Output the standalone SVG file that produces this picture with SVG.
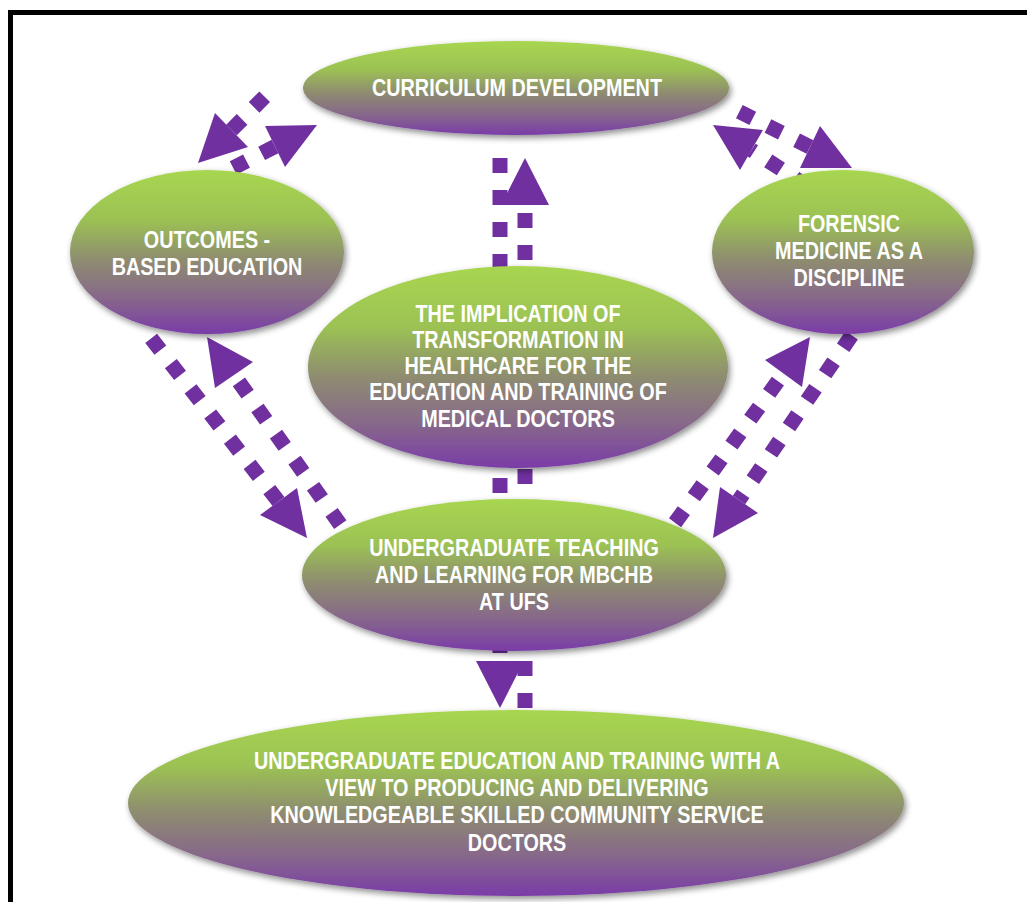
<svg xmlns="http://www.w3.org/2000/svg" width="1027" height="902" viewBox="0 0 1027 902">
  <defs>
    <linearGradient id="orbFill" x1="0" y1="0" x2="0" y2="1">
      <stop offset="0" stop-color="#a8d650"/>
      <stop offset="0.3" stop-color="#9cc253"/>
      <stop offset="0.55" stop-color="#8e8c70"/>
      <stop offset="0.78" stop-color="#87688a"/>
      <stop offset="1" stop-color="#7a3ca8"/>
    </linearGradient>
    <filter id="orbShadow" x="-10%" y="-10%" width="125%" height="135%">
      <feDropShadow dx="2" dy="3" stdDeviation="3" flood-color="#000" flood-opacity="0.45"/>
    </filter>
    <style>
      .orb { fill: url(#orbFill); filter: url(#orbShadow); }
      .label { font-family: 'Liberation Sans', Arial, sans-serif; font-weight: bold; font-size: 23px; fill: #ffffff; text-anchor: middle; }
      .shaft { stroke: #7030a0; stroke-width: 15; stroke-dasharray: 15 17; fill: none; }
      .head { fill: #7030a0; }
    </style>
  </defs>

  <rect width="1027" height="902" fill="#ffffff"/>
  <!-- frame -->
  <rect x="10.5" y="12.5" width="1030" height="900" fill="none" stroke="#000000" stroke-width="5"/>

  <!-- dotted connectors, drawn beneath the ovals -->
  <g id="connectors">
    <!-- curriculum -> outcomes -->
    <line class="shaft" x1="231.5" y1="130" x2="265.4" y2="96"/>
    <polygon class="head" points="198,163 215,113 248,147"/>
    <!-- outcomes -> curriculum -->
    <line class="shaft" x1="275" y1="146.5" x2="226" y2="171.6"/>
    <polygon class="head" points="317,125 265,126 285,167"/>
    <!-- forensic -> curriculum -->
    <line class="shaft" x1="751.5" y1="150" x2="818.6" y2="193.6" style="stroke-dashoffset:12"/>
    <polygon class="head" points="713,125 763,130 740,170"/>
    <!-- curriculum -> forensic -->
    <line class="shaft" x1="810" y1="147" x2="738.5" y2="111.2"/>
    <polygon class="head" points="852,168 820,126 800,168"/>
    <!-- outcomes -> undergraduate teaching -->
    <line class="shaft" x1="278.5" y1="501.5" x2="146.3" y2="332.1"/>
    <polygon class="head" points="307,538 260,515 297,488"/>
    <!-- undergraduate teaching -> outcomes -->
    <line class="shaft" x1="234" y1="375" x2="358.5" y2="550.2" style="stroke-dashoffset:23.5"/>
    <polygon class="head" points="207,337 253,362 215,388"/>
    <!-- forensic -> undergraduate teaching -->
    <line class="shaft" x1="739" y1="500" x2="852" y2="334.8" style="stroke-dashoffset:7.5"/>
    <polygon class="head" points="713,538 720,487 758,513"/>
    <!-- undergraduate teaching -> forensic -->
    <line class="shaft" x1="783.5" y1="373.5" x2="671.8" y2="527.2" style="stroke-dashoffset:22.5"/>
    <polygon class="head" points="810,337 765,360 802,387"/>
    <!-- curriculum down through the centre to the bottom oval -->
    <line class="shaft" x1="500" y1="158" x2="500" y2="661"/>
    <polygon class="head" points="500,708 476,661 524,661"/>
    <!-- bottom oval up through the centre to curriculum -->
    <line class="shaft" x1="525" y1="205" x2="525" y2="709" style="stroke-dashoffset:24"/>
    <polygon class="head" points="525,158 501,205 549,205"/>
  </g>

  <!-- labels use a horizontally condensed bold sans -->
  <g id="curriculum">
    <ellipse class="orb" cx="516" cy="88" rx="213" ry="47"/>
    <text class="label" transform="translate(517 96) scale(0.86 1)">CURRICULUM DEVELOPMENT</text>
  </g>

  <g id="outcomes">
    <ellipse class="orb" cx="207" cy="252" rx="137" ry="82"/>
    <text class="label" transform="translate(207 248) scale(0.86 1)">OUTCOMES -</text>
    <text class="label" transform="translate(207 275) scale(0.86 1)">BASED EDUCATION</text>
  </g>

  <g id="forensic">
    <ellipse class="orb" cx="843" cy="252" rx="131" ry="82"/>
    <text class="label" transform="translate(849 232) scale(0.86 1)">FORENSIC</text>
    <text class="label" transform="translate(849 259) scale(0.86 1)">MEDICINE AS A</text>
    <text class="label" transform="translate(849 286) scale(0.86 1)">DISCIPLINE</text>
  </g>

  <g id="implication">
    <ellipse class="orb" cx="518" cy="367" rx="210" ry="101"/>
    <text class="label" transform="translate(518 322) scale(0.86 1)">THE IMPLICATION OF</text>
    <text class="label" transform="translate(518 348) scale(0.86 1)">TRANSFORMATION IN</text>
    <text class="label" transform="translate(518 374) scale(0.86 1)">HEALTHCARE FOR THE</text>
    <text class="label" transform="translate(518 400) scale(0.86 1)">EDUCATION AND TRAINING OF</text>
    <text class="label" transform="translate(518 427) scale(0.86 1)">MEDICAL DOCTORS</text>
  </g>

  <g id="teaching">
    <ellipse class="orb" cx="514" cy="575" rx="212" ry="76"/>
    <text class="label" transform="translate(514 556) scale(0.86 1)">UNDERGRADUATE TEACHING</text>
    <text class="label" transform="translate(514 583) scale(0.86 1)">AND LEARNING FOR MBCHB</text>
    <text class="label" transform="translate(514 610) scale(0.86 1)">AT UFS</text>
  </g>

  <g id="outcome-doctors">
    <ellipse class="orb" cx="516" cy="803" rx="388" ry="93"/>
    <text class="label" transform="translate(517 769) scale(0.86 1)">UNDERGRADUATE EDUCATION AND TRAINING WITH A</text>
    <text class="label" transform="translate(517 796) scale(0.86 1)">VIEW TO PRODUCING AND DELIVERING</text>
    <text class="label" transform="translate(517 823) scale(0.86 1)">KNOWLEDGEABLE SKILLED COMMUNITY SERVICE</text>
    <text class="label" transform="translate(517 851) scale(0.86 1)">DOCTORS</text>
  </g>
</svg>
